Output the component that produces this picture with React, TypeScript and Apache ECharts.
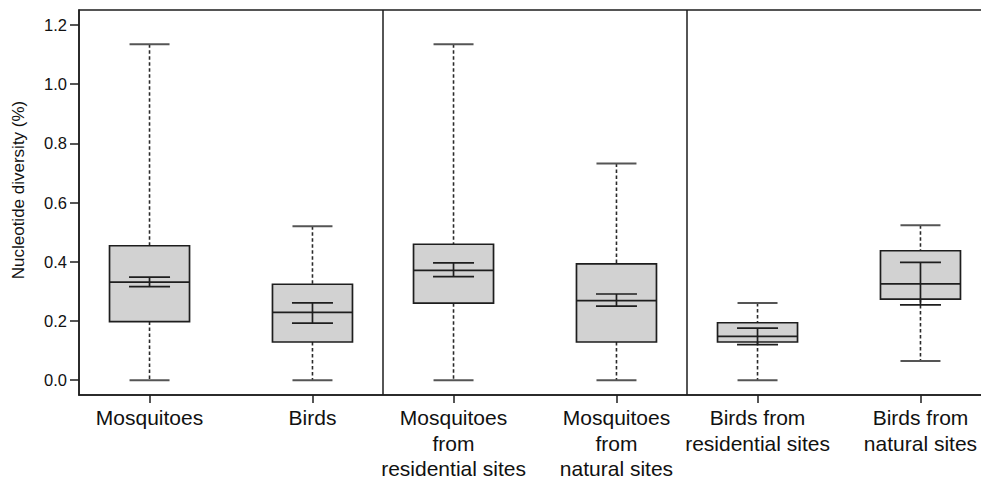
import React, { useEffect, useRef } from "react";
import * as echarts from "echarts";

const categories = [
  "Mosquitoes",
  "Birds",
  "Mosquitoes\nfrom\nresidential sites",
  "Mosquitoes\nfrom\nnatural sites",
  "Birds from\nresidential sites",
  "Birds from\nnatural sites",
];
const whiskerMin = [0, 0, 0, 0, 0, 0.065];
const q1 = [0.198, 0.129, 0.26, 0.129, 0.129, 0.274];
const median = [0.331, 0.229, 0.371, 0.269, 0.148, 0.325];
const q3 = [0.454, 0.324, 0.459, 0.393, 0.194, 0.437];
const whiskerMax = [1.134, 0.52, 1.134, 0.732, 0.261, 0.523];
const ciLow = [0.316, 0.193, 0.35, 0.25, 0.12, 0.254];
const ciHigh = [0.348, 0.261, 0.396, 0.291, 0.176, 0.398];
const yTicks = [0, 0.2, 0.4, 0.6, 0.8, 1.0, 1.2];
const panelSeparators = [1, 2];

// position of each category: panel index + slot offset inside the panel
const positions = categories.map((_, i) => Math.floor(i / 2) + (i % 2 === 0 ? 0.232 : 0.768));

export default function App() {
  const ref = useRef<HTMLDivElement>(null);
  useEffect(() => {
    if (!ref.current) return;
    const chart = echarts.init(ref.current, null, { renderer: "svg" });
    const data = categories.map((_, i) => [
      positions[i],
      whiskerMin[i],
      q1[i],
      median[i],
      q3[i],
      whiskerMax[i],
      ciLow[i],
      ciHigh[i],
    ]);
    const dark = "#1e1e1e";
    const labelFor = (v: number) => {
      let best = 0;
      let d = Infinity;
      positions.forEach((p, i) => {
        if (Math.abs(p - v) < d) {
          d = Math.abs(p - v);
          best = i;
        }
      });
      return categories[best];
    };
    chart.setOption({
      animation: false,
      backgroundColor: "#ffffff",
      grid: {
        left: 79,
        top: 10,
        bottom: 87,
        width: 912,
        containLabel: false,
        outerBoundsMode: "none",
        show: true,
        borderColor: dark,
        borderWidth: 1.5,
        backgroundColor: "transparent",
      },
      xAxis: {
        type: "value",
        min: 0,
        max: 3,
        splitLine: { show: false },
        axisLine: { show: true, onZero: false, lineStyle: { color: dark, width: 1.5 } },
        axisTick: {
          show: true,
          customValues: positions,
          length: 8,
          lineStyle: { color: dark, width: 1.5 },
        },
        axisLabel: {
          customValues: positions,
          formatter: (v: number) => labelFor(v),
          margin: 10,
          color: "#111",
          fontFamily: "Liberation Sans, Arial, sans-serif",
          fontSize: 21,
          lineHeight: 25.5,
          align: "center",
          verticalAlign: "top",
        },
      },
      yAxis: {
        type: "value",
        min: -0.05,
        max: 1.25,
        splitLine: { show: false },
        axisLine: { show: true, onZero: false, lineStyle: { color: dark, width: 1.5 } },
        axisTick: {
          show: true,
          customValues: yTicks,
          length: 9,
          lineStyle: { color: dark, width: 1.5 },
        },
        axisLabel: {
          customValues: yTicks,
          formatter: (v: number) => v.toFixed(1),
          margin: 12,
          color: "#111",
          fontFamily: "Liberation Sans, Arial, sans-serif",
          fontSize: 16.5,
        },
      },
      graphic: [
        {
          type: "text",
          x: 18,
          y: 190,
          rotation: Math.PI / 2,
          style: {
            text: "Nucleotide diversity (%)",
            fill: "#111",
            font: "17px 'Liberation Sans', Arial, sans-serif",
            textAlign: "center",
            textVerticalAlign: "middle",
          },
        },
      ],
      series: [
        {
          type: "custom",
          data,
          clip: false,
          encode: { x: 0, y: [1, 2, 3, 4, 5, 6, 7] },
          renderItem: (params: any, api: any) => {
            const x = api.value(0);
            const pMin = api.coord([x, api.value(1)]);
            const pQ1 = api.coord([x, api.value(2)]);
            const pMed = api.coord([x, api.value(3)]);
            const pQ3 = api.coord([x, api.value(4)]);
            const pMax = api.coord([x, api.value(5)]);
            const pLo = api.coord([x, api.value(6)]);
            const pHi = api.coord([x, api.value(7)]);
            const cx = pMed[0];
            const half = 40;
            const capHalf = 20;
            const ciHalf = 20.5;
            const whiskerStyle = { stroke: "#2a2a2a", lineWidth: 1.6, lineDash: [3.5, 2.5] };
            const capStyle = { stroke: "#555", lineWidth: 2 };
            const ciStyle = { stroke: dark, lineWidth: 1.7 };
            const line = (x1: number, y1: number, x2: number, y2: number, style: any) => ({
              type: "line",
              shape: { x1, y1, x2, y2 },
              style,
            });
            return {
              type: "group",
              children: [
                line(cx, pMax[1], cx, pQ3[1], whiskerStyle),
                line(cx, pQ1[1], cx, pMin[1], whiskerStyle),
                line(cx - capHalf, pMax[1], cx + capHalf, pMax[1], capStyle),
                line(cx - capHalf, pMin[1], cx + capHalf, pMin[1], capStyle),
                {
                  type: "rect",
                  shape: { x: cx - half, y: pQ3[1], width: half * 2, height: pQ1[1] - pQ3[1] },
                  style: { fill: "#d2d2d2", stroke: dark, lineWidth: 1.7 },
                },
                line(cx - half, pMed[1], cx + half, pMed[1], { stroke: dark, lineWidth: 1.7 }),
                line(cx, pLo[1], cx, pHi[1], ciStyle),
                line(cx - ciHalf, pLo[1], cx + ciHalf, pLo[1], ciStyle),
                line(cx - ciHalf, pHi[1], cx + ciHalf, pHi[1], ciStyle),
              ],
            };
          },
          markLine: {
            silent: true,
            symbol: ["none", "none"],
            label: { show: false },
            lineStyle: { color: dark, width: 1.5, type: "solid" },
            data: panelSeparators.map((v) => ({ xAxis: v })),
          },
        },
      ],
    });
    return () => chart.dispose();
  }, []);
  return (
    <div
      ref={ref}
      style={{ position: "fixed", left: 0, top: 0, width: 981, height: 482 }}
    />
  );
}
